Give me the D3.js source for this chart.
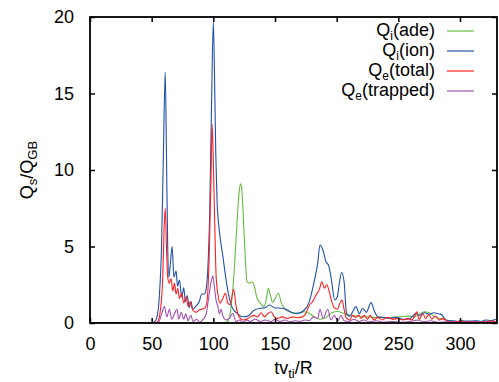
<!DOCTYPE html>
<html>
<head>
<meta charset="utf-8">
<script src="https://cdn.jsdelivr.net/npm/d3@7"></script>
<style>
  body { margin: 0; background: #fff; }
  text { font-family: "Liberation Sans", Arial, sans-serif; fill: #000; }
</style>
</head>
<body>
<svg id="chart" width="499" height="382"></svg>
<script>
// [time, Q/Q_GB]
const ionData = [[0,0],[50,0],[52,0.05],[54,0.3],[56,1.5],[58,5],[59.5,11],[61,16.4],[62,11],[63,5],[64,3.0],[65.5,4.2],[66.6,5.0],[68,3.0],[69.8,3.4],[71,2.4],[72.5,2.8],[74.4,1.7],[76,2.3],[77.4,1.4],[78.8,1.8],[80.5,1.0],[81.9,1.4],[83.2,0.9],[85.9,1.1],[88.6,1.4],[90.6,1.9],[92.8,1.9],[94.1,2.2],[95.5,3.5],[97,7],[98.5,14],[100,19.7],[101,16],[102,11],[103,8],[104.5,6.3],[106,5.3],[108,4.2],[110,3.0],[112,2.0],[114,1.3],[116,0.9],[119,0.65],[123.8,0.41],[128,0.45],[133.3,0.85],[138.7,0.96],[142,1.0],[145.5,1.18],[149.5,1.0],[156,0.96],[160,0.85],[164.3,0.67],[168.3,0.63],[173.8,0.85],[177.8,1.4],[182,2.8],[184.6,3.9],[186.5,5.1],[188.7,4.8],[191.4,4.0],[193.5,3.75],[195.4,3.0],[198.5,1.5],[200.5,1.7],[202,2.5],[204,3.3],[206,2.7],[208,0.63],[210.5,0.45],[213,0.74],[215.7,1.07],[218.4,0.6],[221,0.96],[224,0.7],[227.9,1.33],[230.5,0.8],[233.3,0.41],[237.4,0.37],[242.8,0.3],[248.2,0.37],[253.7,0.24],[259,0.26],[264.3,0.63],[267,0.5],[271,0.67],[275,0.58],[279,0.67],[282,0.6],[284.6,0.58],[287,0.35],[290,0.15],[294,0.15],[298,0.1],[302,0.15],[306,0.12],[310,0.13],[314,0.15],[317,0.1],[321,0.2],[325,0.15],[329,0.25]];

const totalData = [[0,0],[53,0],[55,0.1],[57,0.8],[59,3],[60,6],[61,7.5],[62,5],[63,3.0],[64.3,2.6],[65.8,2.9],[67.1,2.1],[68.5,2.6],[69.8,1.9],[71.2,2.27],[72.5,1.6],[74.4,1.94],[76,1.3],[77.9,1.72],[79.7,1.07],[81.4,1.4],[83.3,0.85],[86,0.7],[88.6,0.85],[91.4,0.92],[93.3,1.0],[95,1.5],[96.5,4],[98,9],[99,13.0],[100,10.5],[100.9,7.4],[102.3,3.0],[103.6,1.94],[105.5,1.3],[107.6,1.6],[109.8,1.94],[111.7,1.3],[113.5,1.2],[116.5,2.2],[118.4,1.1],[121,0.4],[123.8,0.2],[128,0.3],[130,0.4],[133,0.5],[136,0.4],[138.7,0.67],[141.4,0.4],[144,0.6],[146.8,0.74],[149.5,0.4],[152,0.3],[156,0.4],[160,0.3],[164.3,0.4],[168.3,0.35],[172.5,0.4],[175,0.63],[178,1.18],[180.5,1.4],[183.3,1.83],[186,2.2],[188,2.7],[190,2.27],[192,2.5],[194,2.05],[196,1.4],[198,1.0],[200.6,0.9],[202.7,1.3],[204.3,1.5],[206,0.9],[208,0.3],[210.7,0.2],[213,0.5],[215.2,0.37],[218,0.5],[219.8,0.3],[222.5,0.5],[225,0.24],[227,0.5],[230.5,0.2],[233,0.37],[237,0.2],[241,0.37],[245.5,0.24],[249.5,0.3],[253.7,0.2],[257.7,0.3],[261,0.2],[263,0.4],[265,0.74],[267,0.24],[270,0.6],[272,0.3],[274.8,0.55],[277,0.25],[280,0.45],[283,0.2],[286,0.3],[290,0.1],[295,0.08],[300,0.12],[305,0.06],[310,0.1],[315,0.05],[320,0.08],[325,0.12],[329,0.1]];

const adeData = [[0,0],[108,0],[110,0.05],[111.7,0.1],[114.4,1.07],[117,3.5],[119.3,6.7],[121,8.6],[122,9.1],[123,8.8],[123.8,7.8],[125.7,4.55],[127.3,2.7],[129.3,2.6],[131.3,2.7],[133.3,2.37],[135.5,1.6],[138.2,1.3],[140.9,1.07],[142.8,1.5],[144.6,2.27],[146.3,1.8],[148,1.35],[150.9,1.72],[152.8,1.94],[155,1.35],[157.6,0.96],[161.7,0.74],[165.8,0.63],[170,0.65],[173.8,0.74],[177.8,0.63],[182,0.4],[186,0.25],[190,0.3],[196.8,0.7],[201,0.75],[205,0.65],[210,0.5],[217,0.45],[224,0.41],[230,0.37],[237,0.35],[244,0.37],[251,0.4],[258.6,0.45],[262,0.4],[267,0.58],[271,0.74],[275,0.67],[279,0.45],[283,0.3],[289,0.2],[295,0.1],[305,0.08],[315,0.06],[329,0.05]];

const trappedData = [[0,0],[54,0],[56,0.1],[58,0.6],[60.4,1.07],[62.3,0.4],[64.4,0.9],[66.3,0.25],[68.5,0.6],[70.4,0.9],[72,0.25],[74,0.7],[76,0.25],[77.6,0.6],[79.5,0.15],[81.7,0.5],[83.6,0.1],[86.5,0.25],[89,0.05],[91.8,0.25],[94.2,0.6],[96.3,1.7],[98.5,2.8],[99.5,3.07],[100.8,2.4],[102.2,1.5],[103.6,1.1],[104.9,0.6],[106.3,0.9],[107.6,0.5],[110.3,0.2],[113,0.3],[115.7,0.63],[118.4,0.1],[121,0.2],[124,0.05],[127,0.2],[130,0.1],[134,0.25],[138,0.1],[142,0.2],[146.8,0.1],[150,0.25],[154,0.1],[158,0.2],[162,0.08],[166,0.15],[170,0.1],[174,0.2],[178,0.15],[181,0.4],[184.6,0.3],[186.5,0.9],[189,0.3],[192.7,0.9],[195.3,0.2],[198,0.5],[201,0.15],[203.5,0.5],[206,0.15],[210,0.1],[214,0.25],[218,0.1],[222,0.2],[226,0.08],[232,0.15],[238,0.05],[245,0.1],[252,0.05],[260,0.1],[266,0.2],[270,0.08],[276,0.15],[282,0.05],[290,0.08],[300,0.04],[310,0.06],[320,0.04],[329,0.05]];

const xTicks = [0, 50, 100, 150, 200, 250, 300];
const yTicks = [0, 5, 10, 15, 20];

// legend order = draw order
const series = [
  { sub: 'i', tail: '(ade)', data: adeData, color: '#66bb44' },
  { sub: 'i', tail: '(ion)', data: ionData, color: '#2050a8' },
  { sub: 'e', tail: '(total)', data: totalData, color: '#ff1f1f' },
  { sub: 'e', tail: '(trapped)', data: trappedData, color: '#a050b0' },
];

const margin = { top: 17, right: 2, bottom: 59, left: 90 };
const width = 499, height = 382;
const svg = d3.select('#chart');

const x = d3.scaleLinear().domain([0, 330]).range([margin.left, width - margin.right]);
const y = d3.scaleLinear().domain([0, 20]).range([height - margin.bottom, margin.top]);

svg.append('clipPath').attr('id', 'plot-clip')
  .append('rect')
  .attr('x', margin.left).attr('y', margin.top)
  .attr('width', x.range()[1] - x.range()[0])
  .attr('height', y.range()[0] - y.range()[1]);

const line = d3.line()
  .x(d => x(d[0]))
  .y(d => y(d[1]))
  .curve(d3.curveMonotoneX);

const lines = svg.append('g').attr('clip-path', 'url(#plot-clip)');
series.forEach(s => {
  lines.append('path')
    .datum(s.data)
    .attr('fill', 'none')
    .attr('stroke', s.color)
    .attr('stroke-width', 1.1)
    .attr('stroke-linejoin', 'round')
    .attr('d', line);
});

// axes: ticks point inward, mirrored on top/right
const tickLen = 5;
const fontSize = 18;

svg.append('g')
  .attr('transform', `translate(0,${y(0)})`)
  .call(d3.axisBottom(x).tickValues(xTicks).tickSize(-tickLen).tickPadding(tickLen + 9))
  .call(g => g.select('.domain').remove());

svg.append('g')
  .attr('transform', `translate(0,${y(20)})`)
  .call(d3.axisTop(x).tickValues(xTicks).tickSize(-tickLen).tickFormat(''))
  .call(g => g.select('.domain').remove());

svg.append('g')
  .attr('transform', `translate(${x(0)},0)`)
  .call(d3.axisLeft(y).tickValues(yTicks).tickSize(-tickLen).tickPadding(tickLen + 11))
  .call(g => g.select('.domain').remove());

svg.append('g')
  .attr('transform', `translate(${x(330)},0)`)
  .call(d3.axisRight(y).tickValues(yTicks).tickSize(-tickLen).tickFormat(''))
  .call(g => g.select('.domain').remove());

svg.selectAll('.tick line').attr('stroke', '#000').attr('stroke-width', 1.5);
svg.selectAll('.tick text')
  .attr('font-size', fontSize)
  .attr('font-family', '"Liberation Sans", Arial, sans-serif');

svg.append('rect')
  .attr('x', x(0)).attr('y', y(20))
  .attr('width', x(330) - x(0))
  .attr('height', y(0) - y(20))
  .attr('fill', 'none')
  .attr('stroke', '#000')
  .attr('stroke-width', 1.8);

// text with a subscript
function subText(sel, parts, subSize) {
  parts.forEach(p => {
    const t = sel.append('tspan').text(p.text);
    if (p.sub) t.attr('font-size', subSize).attr('dy', 4);
    else if (p.after) t.attr('dy', -4);
  });
}

const legend = svg.append('g');
series.forEach((s, i) => {
  const by = 36 + i * 20;
  const t = legend.append('text')
    .attr('x', 435).attr('y', by)
    .attr('text-anchor', 'end')
    .attr('font-size', fontSize);
  subText(t, [{ text: 'Q' }, { text: s.sub, sub: true }, { text: s.tail, after: true }], 12);
  legend.append('line')
    .attr('x1', 447).attr('x2', 474)
    .attr('y1', by - 5).attr('y2', by - 5)
    .attr('stroke', s.color).attr('stroke-width', 1.2);
});

const xl = svg.append('text')
  .attr('x', (x(0) + x(330)) / 2).attr('y', 374)
  .attr('text-anchor', 'middle')
  .attr('font-size', fontSize);
subText(xl, [{ text: 'tv' }, { text: 'ti', sub: true }, { text: '/R', after: true }], 13);

const yl = svg.append('text')
  .attr('transform', `translate(33,${(y(0) + y(20)) / 2}) rotate(-90)`)
  .attr('text-anchor', 'middle')
  .attr('font-size', fontSize);
subText(yl, [{ text: 'Q' }, { text: 's', sub: true }, { text: '/Q', after: true }, { text: 'GB', sub: true }], 13);
</script>
</body>
</html>
